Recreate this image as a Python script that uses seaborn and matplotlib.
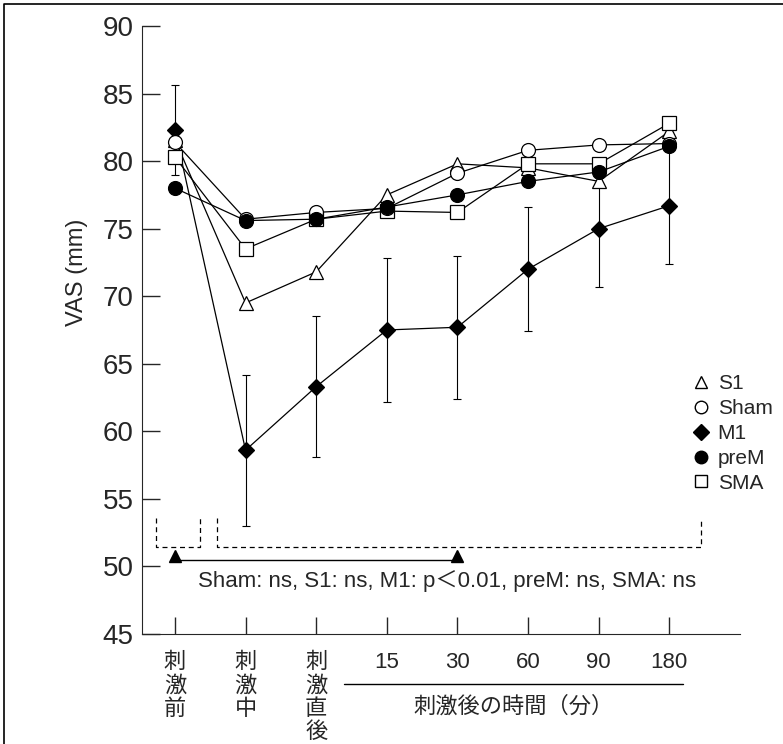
import pandas as pd
import matplotlib.pyplot as plt
import seaborn as sns
from matplotlib.lines import Line2D

sns.set_style('ticks')
plt.rcParams['font.family'] = ['Liberation Sans', 'Noto Sans CJK JP']

# === DATA ===
time_labels = ['刺\n激\n前', '刺\n激\n中', '刺\n激\n直\n後', '15', '30', '60', '90', '180']
s1 = [81.6, 69.5, 71.8, 77.5, 79.8, 79.5, 78.5, 82.2]
sham = [81.4, 75.7, 76.2, 76.5, 79.1, 80.8, 81.2, 81.3]
m1 = [82.3, 58.6, 63.3, 67.5, 67.7, 72.0, 75.0, 76.7]
m1_sd = [3.3, 5.6, 5.2, 5.3, 5.3, 4.6, 4.3, 4.3]
prem = [78.0, 75.6, 75.7, 76.6, 77.5, 78.5, 79.2, 81.1]
sma = [80.3, 73.5, 75.7, 76.3, 76.2, 79.8, 79.8, 82.8]
stats_text = 'Sham: ns, S1: ns, M1: p＜0.01, preM: ns, SMA: ns'

groups = {'S1': s1, 'Sham': sham, 'M1': m1, 'preM': prem, 'SMA': sma}
marker_style = {'S1': ('^', 'white'), 'Sham': ('o', 'white'), 'M1': ('D', 'black'),
                'preM': ('o', 'black'), 'SMA': ('s', 'white')}
draw_order = ['M1', 'S1', 'SMA', 'Sham', 'preM']

rows = []
for g, vals in groups.items():
    for i, v in enumerate(vals):
        rows.append({'group': g, 'pos': i, 'VAS': v})
df = pd.DataFrame(rows)

fig = plt.figure(figsize=(7.83, 7.44), dpi=100)
ax = fig.add_axes([0.181, 0.148, 0.764, 0.817])

ax.errorbar(range(len(m1)), m1, yerr=m1_sd, fmt='none', ecolor='black',
            elinewidth=0.8, capsize=3, capthick=0.8, zorder=1)

for g in draw_order:
    mk, fc = marker_style[g]
    sub = df[df['group'] == g]
    sns.lineplot(data=sub, x='pos', y='VAS', ax=ax, color='black', linewidth=0.9,
                 marker=mk, markersize=10 if mk != 'D' else 8.5,
                 markerfacecolor=fc, markeredgecolor='black', markeredgewidth=0.9,
                 legend=False, zorder=3)

# bracket / comparison annotation
ax.plot([-0.27, -0.27, 0.36, 0.36], [53.6, 51.4, 51.4, 53.6], color='black', lw=0.9, dashes=(4, 3))
ax.plot([0.60, 0.60, 7.45, 7.45], [53.6, 51.4, 51.4, 53.6], color='black', lw=0.9, dashes=(4, 3))
ax.plot([0, 4], [50.45, 50.45], color='black', lw=1.0)
ax.plot([0, 4], [50.8, 50.8], ls='none', marker='^', color='black', ms=8)
ax.text(3.85, 48.95, stats_text, ha='center', va='center', fontsize=16)

ax.set_xlim(-0.47, 8.0)
ax.set_ylim(45, 90)
ax.set_yticks(range(45, 91, 5))
ax.set_xticks(range(len(time_labels)))
ax.set_xticklabels(time_labels, fontsize=16, linespacing=1.15)
ax.tick_params(axis='y', labelsize=20, direction='in', length=13, width=1, pad=6)
ax.tick_params(axis='x', direction='in', length=12, width=1, pad=13)
for s in ['top', 'right']:
    ax.spines[s].set_visible(False)
ax.set_xlabel('')
ax.set_ylabel('VAS (mm)', fontsize=17)
ax.yaxis.set_label_coords(-0.09, 0.595)

# sub-axis line and label for post-stimulation times
ax.plot([2.4, 7.2], [41.3, 41.3], color='black', lw=1.0, clip_on=False)
ax.text(4.8, 39.6, '刺激後の時間（分）', ha='center', va='center', fontsize=16)

handles = [Line2D([], [], ls='none', marker=marker_style[g][0], markerfacecolor=marker_style[g][1],
                  markeredgecolor='black', markersize=9 if marker_style[g][0] != 'D' else 8)
           for g in groups]
ax.legend(handles, list(groups.keys()), loc='upper left', bbox_to_anchor=(0.9, 0.444),
          frameon=False, fontsize=15, handletextpad=0.3, labelspacing=0.28,
          borderpad=0, handlelength=1.0)

# page frame: top and left edges only
fig.add_artist(Line2D([0.005, 0.005, 1.0], [0.0, 0.994, 0.994], transform=fig.transFigure,
                      color='black', lw=1.2))

fig.savefig('out.png', dpi=100)
